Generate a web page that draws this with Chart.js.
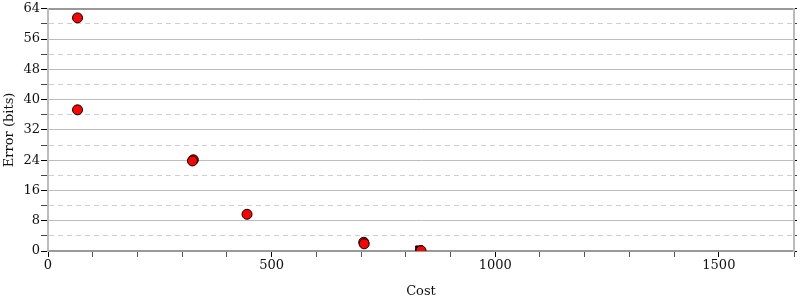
<!DOCTYPE html>
<html>
<head>
<meta charset="utf-8">
<script src="https://cdn.jsdelivr.net/npm/chart.js@4.4.0/dist/chart.umd.min.js"></script>
<style>
    body { margin: 0; background: #fff; }
    #wrap { width: 800px; height: 300px; }
</style>
</head>
<body>
<div id="wrap"><canvas id="errorChart"></canvas></div>
<script>
// red points: cost and error (bits)
const costs = [66, 66, 325, 323, 445, 706, 707, 834];
const errors = [61.6, 37.3, 24.1, 23.8, 9.7, 2.3, 1.9, 0.1];
// black square
const bestCost = [830];
const bestError = [0.4];

const xMax = 1668;
const yMax = 64;

function toPoints(xs, ys){
    var pts = [];
    for (var i = 0; i < xs.length; i++) {
        pts.push({x: xs[i], y: ys[i]});
    }
    return pts;
}

const serif = {family: "'DejaVu Serif', serif", size: 13};

function isMajorY(ctx){
    return ctx.tick && ctx.tick.value % 8 === 0;
}

new Chart(document.getElementById('errorChart'), {
    type: 'scatter',
    data: {
        datasets: [
            {
                label: 'runs',
                data: toPoints(costs, errors),
                backgroundColor: '#ff0000',
                borderColor: '#000',
                borderWidth: 1,
                pointRadius: 5,
                pointHoverRadius: 5,
                clip: 0
            },
            {
                label: 'best',
                data: toPoints(bestCost, bestError),
                backgroundColor: '#000',
                borderColor: '#000',
                borderWidth: 1,
                pointStyle: 'rect',
                pointRadius: 5,
                pointHoverRadius: 5,
                clip: 0
            }
        ]
    },
    options: {
        responsive: true,
        maintainAspectRatio: false,
        animation: false,
        layout: { padding: { top: 8, left: 0, right: 0, bottom: 0 } },
        plugins: {
            legend: { display: false },
            tooltip: { enabled: false }
        },
        scales: {
            x: {
                type: 'linear',
                min: 0,
                max: xMax,
                afterFit: function(scale){ scale.height = 49; },
                border: { color: '#999', width: 2 },
                grid: {
                    drawOnChartArea: false,
                    tickLength: 6,
                    tickColor: function(ctx){ return ctx.tick && ctx.tick.value % 500 === 0 ? '#000' : '#555'; }
                },
                ticks: {
                    stepSize: 100,
                    autoSkip: false,
                    maxRotation: 0,
                    color: '#111',
                    font: serif,
                    padding: 1,
                    callback: function(v){ return v % 500 === 0 ? v : ''; }
                },
                title: { display: true, text: 'Cost', color: '#111', font: serif, padding: {top: 4, bottom: 1} }
            },
            x2: {
                type: 'linear',
                position: 'top',
                min: 0,
                max: xMax,
                border: { color: '#999', width: 2 },
                grid: { drawOnChartArea: false, drawTicks: false },
                ticks: { display: false }
            },
            y: {
                min: 0,
                max: yMax,
                afterFit: function(scale){ scale.width = 48; },
                border: {
                    color: '#bbb',
                    width: 2,
                    dash: function(ctx){ return isMajorY(ctx) ? [] : [5, 4]; }
                },
                grid: {
                    color: function(ctx){ return isMajorY(ctx) ? '#bdbdbd' : '#cfcfcf'; },
                    tickColor: function(ctx){ return isMajorY(ctx) ? '#000' : '#444'; },
                    tickLength: 7
                },
                ticks: {
                    stepSize: 4,
                    autoSkip: false,
                    color: '#111',
                    font: serif,
                    padding: 1,
                    callback: function(v){ return v % 8 === 0 ? v : ''; }
                },
                title: { display: true, text: 'Error (bits)', color: '#111', font: serif, padding: {top: 2, bottom: 2} }
            },
            y2: {
                position: 'right',
                min: 0,
                max: yMax,
                border: { color: '#bbb', width: 2 },
                grid: {
                    drawOnChartArea: false,
                    tickLength: 3,
                    tickColor: function(ctx){ return isMajorY(ctx) ? '#000' : '#444'; }
                },
                ticks: { stepSize: 4, display: false }
            }
        }
    }
});
</script>
</body>
</html>
